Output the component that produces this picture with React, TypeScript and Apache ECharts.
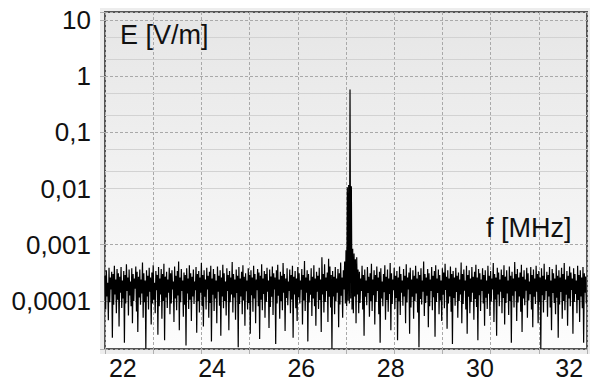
import React, { useEffect, useRef } from "react";
import * as echarts from "echarts";

// Spectrum sweep: start frequency and bin step (MHz)
const startFreqMHz = 21.6;
const stepMHz = 0.015;

const fieldMicroVperM: number[] = [
  280, 70, 350, 120, 210, 45, 390, 95, 260, 160, 330, 22, 300, 85, 420, 130, 240, 60, 370, 105,
  310, 35, 270, 140, 400, 75, 230, 110, 340, 18, 290, 90, 450, 150, 260, 55, 360, 125, 220, 80,
  380, 40, 300, 100, 250, 165, 410, 65, 330, 28, 270, 115, 360, 85, 240, 135, 480, 50, 310, 95,
  230, 14, 350, 120, 280, 70, 390, 145, 260, 38, 320, 90, 430, 105, 210, 60, 340, 155, 290, 25,
  400, 80, 250, 130, 370, 48, 300, 100, 460, 20, 270, 115, 330, 75, 240, 140, 390, 58, 310, 90,
  350, 160, 220, 42, 410, 110, 280, 68, 340, 125, 500, 30, 260, 95, 370, 150, 230, 52, 320, 85,
  290, 16, 380, 135, 250, 72, 430, 105, 310, 44, 270, 120, 360, 88, 220, 155, 400, 27, 300, 98,
  340, 62, 260, 140, 470, 80, 290, 35, 350, 118, 240, 70, 390, 160, 280, 50, 330, 92, 420, 19,
  250, 128, 370, 66, 300, 110, 230, 40, 410, 145, 280, 82, 350, 24, 260, 120, 440, 74, 310, 100,
  220, 55, 380, 150, 290, 30, 340, 95, 260, 130, 490, 62, 300, 115, 240, 46, 360, 138, 280, 15,
  400, 88, 250, 120, 330, 58, 430, 102, 270, 36, 310, 148, 230, 70, 380, 92, 290, 26, 350, 126,
  260, 64, 420, 110, 300, 40, 240, 155, 370, 80, 320, 21, 280, 105, 450, 68, 250, 132, 340, 50,
  300, 96, 390, 145, 230, 33, 360, 78, 270, 118, 410, 56, 310, 160, 260, 17, 350, 90, 440, 124,
  240, 48, 330, 100, 280, 68, 470, 140, 300, 29, 250, 112, 380, 84, 220, 150, 360, 60, 290, 106,
  420, 22, 270, 130, 340, 74, 250, 44, 400, 116, 310, 90, 230, 158, 370, 38, 290, 102, 510, 66,
  260, 140, 350, 19, 300, 94, 230, 128, 380, 54, 270, 110, 430, 80, 250, 36, 330, 146, 280, 72,
  390, 104, 240, 28, 600, 130, 300, 62, 450, 96, 260, 150, 320, 42, 560, 118, 410, 76, 290, 14,
  340, 120, 270, 58, 400, 100, 250, 140, 370, 34, 310, 86, 480, 124, 260, 50, 350, 160, 500, 90,
  800, 80, 10500, 100, 11500, 90, 580000, 110, 11000, 70, 850, 60, 700, 120, 550, 40, 600, 130, 360, 60,
  330, 92, 250, 150, 420, 70, 290, 24, 360, 118, 230, 84, 400, 138, 270, 52, 310, 100, 460, 66,
  240, 126, 350, 38, 290, 96, 410, 150, 260, 58, 330, 18, 380, 110, 220, 80, 300, 142, 430, 46,
  270, 104, 360, 64, 250, 132, 470, 30, 310, 88, 240, 154, 390, 72, 280, 112, 340, 20, 260, 98,
  410, 56, 300, 140, 230, 82, 370, 120, 280, 40, 450, 94, 260, 160, 320, 26, 390, 76, 240, 118,
  350, 48, 280, 100, 420, 136, 250, 62, 330, 15, 290, 108, 380, 86, 230, 146, 500, 54, 300, 92,
  260, 124, 370, 34, 310, 80, 240, 150, 400, 68, 280, 116, 340, 23, 430, 96, 250, 138, 360, 58,
  290, 102, 230, 44, 380, 128, 320, 74, 460, 156, 270, 32, 350, 90, 250, 120, 410, 64, 300, 17,
  340, 112, 260, 82, 390, 144, 280, 50, 320, 100, 240, 130, 480, 40, 300, 88, 360, 152, 230, 70,
  420, 26, 290, 118, 350, 60, 250, 96, 400, 140, 270, 46, 330, 108, 440, 78, 260, 20, 370, 126,
  310, 66, 240, 150, 380, 90, 290, 36, 350, 114, 230, 72, 420, 134, 280, 54, 340, 98, 250, 160,
  470, 42, 300, 106, 260, 24, 390, 130, 320, 80, 240, 146, 360, 60, 290, 112, 430, 38, 270, 92,
  350, 136, 230, 56, 410, 100, 280, 18, 330, 124, 250, 76, 490, 148, 300, 44, 370, 94, 260, 120,
  320, 64, 440, 28, 270, 110, 350, 84, 240, 152, 390, 50, 310, 102, 220, 132, 400, 70, 290, 34,
  360, 118, 250, 88, 420, 146, 300, 40, 340, 96, 260, 14, 380, 126, 280, 62, 460, 104, 240, 150,
  330, 52, 290, 120, 400, 76, 230, 30, 370, 138, 310, 92, 250, 58, 440, 114, 280, 22, 350, 86,
  260, 144, 390, 48, 300, 100, 470, 68, 240, 128, 340, 36, 280, 110, 410, 80, 320, 156, 250, 26,
  380, 96, 300, 132, 230, 60, 420, 104, 290, 42, 350, 120, 260, 74, 400, 18, 310, 140, 270, 90,
];

// Axis ticks
const yTickValues = [0.0001, 0.001, 0.01, 0.1, 1, 10];
const yTickLabels = ["0,0001", "0,001", "0,01", "0,1", "1", "10"];
const yMinorGrid = [2e-5, 5e-5, 2e-4, 5e-4, 2e-3, 5e-3, 0.02, 0.05, 0.2, 0.5, 2, 5];
const xTickLabels = [22, 24, 26, 28, 30, 32];

const xMin = 21.6;
const xMax = 32.4;
const yMin = 1.39e-5;
const yMax = 13.9;

const FONT = "'Liberation Sans', Arial, sans-serif";

export default function App() {
  const ref = useRef<HTMLDivElement>(null);

  useEffect(() => {
    if (!ref.current) return;
    const chart = echarts.init(ref.current, null, { renderer: "svg" });

    const data = fieldMicroVperM.map((v, i) => [startFreqMHz + i * stepMHz, v / 1e6]);

    chart.setOption({
      animation: false,
      backgroundColor: "#ffffff",
      graphic: [
        {
          type: "rect",
          z: -10,
          silent: true,
          shape: { x: 100, y: 8, width: 490, height: 346 },
          style: { fill: "#ededed" },
        },
        {
          type: "text",
          z: 100,
          left: 120,
          top: 21,
          style: { text: "E [V/m]", fill: "#111", font: `27px ${FONT}` },
        },
        {
          type: "text",
          z: 100,
          left: 486,
          top: 214,
          style: { text: "f [MHz]", fill: "#111", font: `27px ${FONT}` },
        },
      ],
      grid: {
        left: 105,
        top: 12,
        width: 484,
        height: 337,
        show: true,
        borderColor: "#555555",
        borderWidth: 2,
        backgroundColor: new echarts.graphic.LinearGradient(0, 0, 0, 1, [
          { offset: 0, color: "#e6e6e6" },
          { offset: 1, color: "#fdfdfd" },
        ]),
      },
      xAxis: [
        {
          type: "value",
          min: xMin,
          max: xMax,
          interval: 1.08,
          axisLine: { show: false },
          axisTick: { show: true, length: 5, lineStyle: { color: "#b0b0b0" } },
          axisLabel: { show: false },
          splitLine: { show: true, lineStyle: { color: "#a9a9a9", type: [3, 2], width: 1 } },
        },
        {
          type: "value",
          position: "bottom",
          min: xMin,
          max: xMax,
          interval: 0.4,
          axisLine: { show: false },
          axisTick: { show: false },
          splitLine: { show: false },
          axisLabel: {
            show: true,
            interval: 0,
            margin: 8,
            color: "#111",
            fontFamily: FONT,
            fontSize: 25,
            lineHeight: 22,
            formatter: (v: number) => {
              const r = Math.round(v);
              if (Math.abs(v - r) < 1e-6 && xTickLabels.indexOf(r) >= 0) return String(r);
              return "";
            },
          },
        },
      ],
      yAxis: {
        type: "log",
        logBase: 10,
        min: yMin,
        max: yMax,
        axisLine: { show: false },
        axisTick: { show: true, length: 5, lineStyle: { color: "#b0b0b0" } },
        splitLine: { show: true, lineStyle: { color: "#a9a9a9", type: [3, 2], width: 1 } },
        axisLabel: {
          margin: 14,
          color: "#111",
          fontFamily: FONT,
          fontSize: 26,
          formatter: (v: number) => {
            for (let i = 0; i < yTickValues.length; i++) {
              if (Math.abs(v - yTickValues[i]) / yTickValues[i] < 1e-6) return yTickLabels[i];
            }
            return "";
          },
        },
      },
      series: [
        {
          type: "line",
          xAxisIndex: 0,
          data: [],
          z: 1,
          silent: true,
          markLine: {
            silent: true,
            symbol: "none",
            label: { show: false },
            lineStyle: { color: "#d2d2d2", type: "solid", width: 1 },
            data: yMinorGrid.map((v) => ({ yAxis: v })),
          },
        },
        {
          type: "line",
          xAxisIndex: 0,
          z: 5,
          data,
          showSymbol: false,
          symbol: "none",
          lineStyle: { color: "#000000", width: 1.2 },
        },
      ],
    });

    return () => chart.dispose();
  }, []);

  return (
    <div
      ref={ref}
      style={{ position: "fixed", left: 0, top: 0, width: 590, height: 381 }}
    />
  );
}
